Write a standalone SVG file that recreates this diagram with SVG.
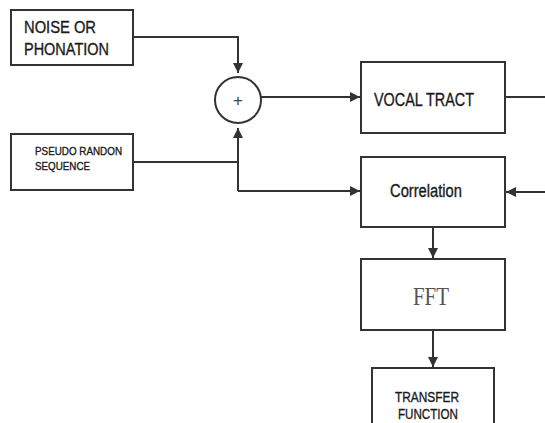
<svg xmlns="http://www.w3.org/2000/svg" width="545" height="423" viewBox="0 0 545 423">
<style>
.box{fill:#fff;stroke:#333;stroke-width:2}
.ln{fill:none;stroke:#333;stroke-width:2}
.t{font-family:"Liberation Sans",Arial,sans-serif;fill:#1a1a1a;stroke:#1a1a1a;stroke-width:0.35}
</style>
<defs>
<marker id="ah" viewBox="0 0 10 10" refX="10" refY="5" markerWidth="5" markerHeight="5" orient="auto" markerUnits="strokeWidth">
<path d="M0,0 L10,5 L0,10 z" fill="#333"/>
</marker>
</defs>
<rect width="545" height="423" fill="#fff"/>
<g id="connectors">
<path class="ln" d="M133,37 H238 V73" marker-end="url(#ah)"/>
<path class="ln" d="M133,162 H238"/>
<path class="ln" d="M238,191 V128" marker-end="url(#ah)"/>
<path class="ln" d="M238,191 H360" marker-end="url(#ah)"/>
<path class="ln" d="M261,97 H360" marker-end="url(#ah)"/>
<path class="ln" d="M505,97 H545"/>
<path class="ln" d="M545,192 H506" marker-end="url(#ah)"/>
<path class="ln" d="M433,227 V258" marker-end="url(#ah)"/>
<path class="ln" d="M433,330 V367" marker-end="url(#ah)"/>
</g>
<g id="noise">
<rect class="box" x="11" y="10" width="122" height="55"/>
<text class="t" x="24" y="33" font-size="16.5" textLength="72" lengthAdjust="spacingAndGlyphs">NOISE OR</text>
<text class="t" x="24" y="55" font-size="16.5" textLength="85" lengthAdjust="spacingAndGlyphs">PHONATION</text>
</g>
<g id="sum">
<circle cx="238" cy="100" r="23" fill="#fff" stroke="#333" stroke-width="2"/>
<text x="238" y="106" font-size="17" text-anchor="middle" font-family="'Liberation Sans',Arial,sans-serif" fill="#444">+</text>
</g>
<g id="pseudo">
<rect class="box" x="11" y="134" width="122" height="56"/>
<text class="t" x="35" y="155" font-size="11" textLength="87" lengthAdjust="spacingAndGlyphs">PSEUDO RANDON</text>
<text class="t" x="35" y="170" font-size="11" textLength="55" lengthAdjust="spacingAndGlyphs">SEQUENCE</text>
</g>
<g id="vocal">
<rect class="box" x="361" y="62" width="144" height="71"/>
<text class="t" x="374" y="106" font-size="18" textLength="100" lengthAdjust="spacingAndGlyphs">VOCAL TRACT</text>
</g>
<g id="correlation">
<rect class="box" x="361" y="157" width="144" height="70"/>
<text class="t" x="390" y="197" font-size="18" textLength="72" lengthAdjust="spacingAndGlyphs">Correlation</text>
</g>
<g id="fft">
<rect class="box" x="361" y="259" width="144" height="71"/>
<text x="413" y="305" font-size="26" textLength="36" lengthAdjust="spacingAndGlyphs" font-family="'Liberation Serif','Times New Roman',serif" fill="#555">FFT</text>
</g>
<g id="transfer">
<rect class="box" x="372" y="368" width="122" height="60"/>
<text class="t" x="395" y="402" font-size="15" textLength="64" lengthAdjust="spacingAndGlyphs">TRANSFER</text>
<text class="t" x="398" y="419" font-size="15" textLength="60" lengthAdjust="spacingAndGlyphs">FUNCTION</text>
</g>
</svg>
